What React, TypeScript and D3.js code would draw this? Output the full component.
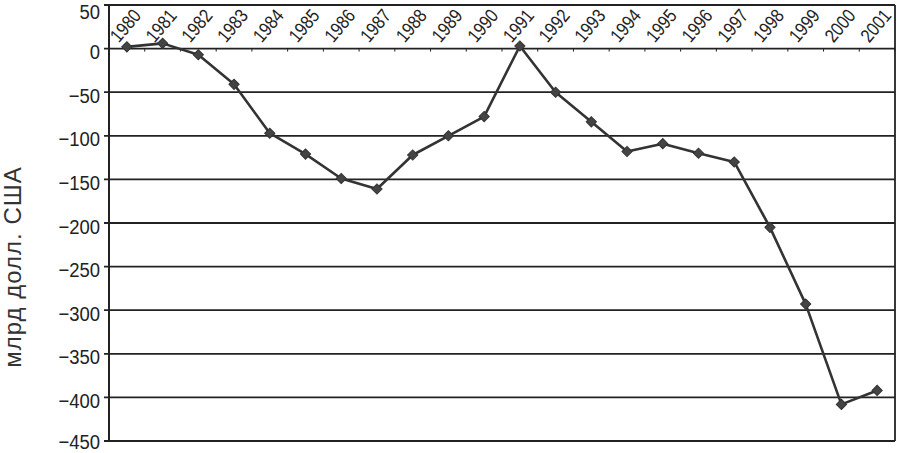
import React from "react";
import * as d3 from "d3";

const years = ["1980","1981","1982","1983","1984","1985","1986","1987","1988","1989","1990","1991","1992","1993","1994","1995","1996","1997","1998","1999","2000","2001"];
const balance = [2, 6, -7, -41, -97, -121, -149, -161, -122, -100, -78, 3, -50, -84, -118, -109, -120, -130, -205, -293, -408, -392];
const yTicks = [50, 0, -50, -100, -150, -200, -250, -300, -350, -400, -450];
const yTitle = "млрд долл. США";

const W = 897, H = 453;
const left = 109, right = 895, top = 5, bottom = 441;
const font = "'Liberation Sans', Arial, sans-serif";

export default function App() {
  const x = d3.scaleBand<string>().domain(years).range([left, right]).padding(0);
  const y = d3.scaleLinear().domain([-450, 50]).range([bottom, top]);
  const cx = (i: number) => (x(years[i]) as number) + x.bandwidth() / 2;
  const line = d3.line<number>().x((_, i) => cx(i)).y((d) => y(d));
  const marker = d3.symbol().type(d3.symbolSquare).size(52)();
  const fmt = (v: number) => (v < 0 ? "\u2212" + Math.abs(v) : String(v));
  const ink = "#222";
  const labelY = (t: number) => Math.max(11, Math.min(y(t) + 3, 441));
  return (
    <svg width={W} height={H} style={{ position: "absolute", left: 0, top: 0, background: "#fff" }}>
      <rect x={0} y={0} width={W} height={H} fill="#fff" />
      {yTicks.map((t) => (
        <g key={t}>
          <line x1={left - 5} x2={right} y1={y(t)} y2={y(t)} stroke={ink} strokeWidth={1.8} />
          <text transform={`translate(100,${labelY(t)}) scale(0.88,1)`} dy="0.36em" textAnchor="end" fontFamily={font} fontSize={21} fill="#222">{fmt(t)}</text>
        </g>
      ))}
      <line x1={left} x2={left} y1={top} y2={bottom} stroke={ink} strokeWidth={2} />
      <line x1={right} x2={right} y1={top} y2={bottom} stroke={ink} strokeWidth={1.8} />
      {years.map((yr) => (
        <line key={"t" + yr} x1={(x(yr) as number) + x.bandwidth()} x2={(x(yr) as number) + x.bandwidth()} y1={y(0)} y2={y(0) + 3} stroke={ink} strokeWidth={1} />
      ))}
      {years.map((yr, i) => (
        <text key={yr} transform={`translate(${cx(i) - 8},${y(0) - 5}) rotate(-50) scale(0.85,1)`} fontFamily={font} fontSize={19} fill="#222">{yr}</text>
      ))}
      <path d={line(balance) as string} fill="none" stroke="#333" strokeWidth={2.6} strokeLinejoin="round" />
      {balance.map((v, i) => (
        <path key={i} d={marker as string} transform={`translate(${cx(i)},${y(v)}) rotate(45)`} fill="#444" stroke="#333" strokeWidth={1} />
      ))}
      <text transform={`translate(21,267) rotate(-90)`} textAnchor="middle" fontFamily={font} fontSize={24} letterSpacing={1} fill="#333">{yTitle}</text>
    </svg>
  );
}
